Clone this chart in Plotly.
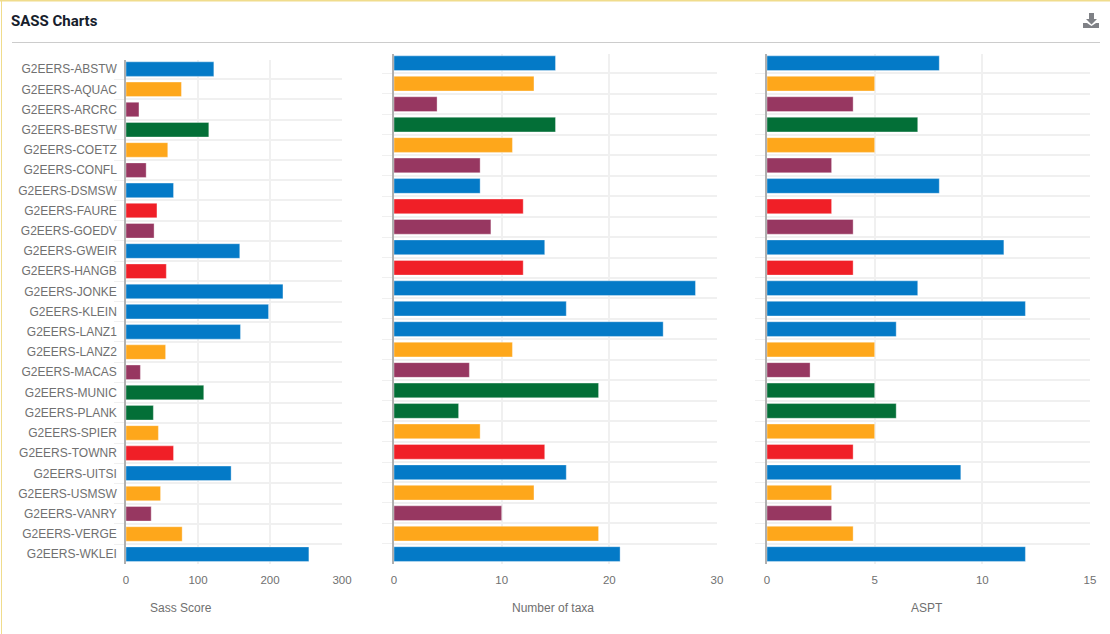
import plotly.graph_objects as go

W, H = 1110, 634

sites = ["G2EERS-ABSTW", "G2EERS-AQUAC", "G2EERS-ARCRC", "G2EERS-BESTW", "G2EERS-COETZ",
         "G2EERS-CONFL", "G2EERS-DSMSW", "G2EERS-FAURE", "G2EERS-GOEDV", "G2EERS-GWEIR",
         "G2EERS-HANGB", "G2EERS-JONKE", "G2EERS-KLEIN", "G2EERS-LANZ1", "G2EERS-LANZ2",
         "G2EERS-MACAS", "G2EERS-MUNIC", "G2EERS-PLANK", "G2EERS-SPIER", "G2EERS-TOWNR",
         "G2EERS-UITSI", "G2EERS-USMSW", "G2EERS-VANRY", "G2EERS-VERGE", "G2EERS-WKLEI"]
sass_score = [122, 77, 18, 115, 58, 28, 66, 43, 39, 158, 56, 218, 198, 159, 55, 20, 108, 38, 45, 66, 146, 48, 35, 78, 254]
num_taxa = [15, 13, 4, 15, 11, 8, 8, 12, 9, 14, 12, 28, 16, 25, 11, 7, 19, 6, 8, 14, 16, 13, 10, 19, 21]
aspt = [8, 5, 4, 7, 5, 3, 8, 3, 4, 11, 4, 7, 12, 6, 5, 2, 5, 6, 5, 4, 9, 3, 3, 4, 12]
bar_colors = ["#047AC7", "#FEA71B", "#973761", "#036F37", "#FEA71B",
              "#973761", "#047AC7", "#F01F27", "#973761", "#047AC7",
              "#F01F27", "#047AC7", "#047AC7", "#047AC7", "#FEA71B",
              "#973761", "#036F37", "#036F37", "#FEA71B", "#F01F27",
              "#047AC7", "#FEA71B", "#973761", "#FEA71B", "#047AC7"]
panels = [("Sass Score", sass_score, [0, 300], [0, 100, 200, 300], (126, 342), 181, 59),
          ("Number of taxa", num_taxa, [0, 30], [0, 10, 20, 30], (394, 717), 553, 53),
          ("ASPT", aspt, [0, 15], [0, 5, 10, 15], (767, 1090), 927, 53)]

BOTTOM = 564.3
GRID = "#f0f0f0"
TEXT = "#707070"
FONT = "Liberation Sans"


def px(x):
    return x / W


def py(y):
    return 1 - y / H


fig = go.Figure()
annotations = [
    dict(text="<b>SASS Charts</b>", xref="paper", yref="paper", x=px(9), y=py(21),
         xanchor="left", yanchor="middle", showarrow=False,
         font=dict(family="Roboto", size=15, color="#16202c")),
]
top_masks = []
for i, (name, values, rng, ticks, (x0, x1), title_x, top) in enumerate(panels, start=1):
    suffix = "" if i == 1 else str(i)
    fig.add_trace(go.Bar(
        y=sites, x=values, orientation="h", name=name, showlegend=False,
        xaxis="x" + suffix, yaxis="y" + suffix,
        marker=dict(color=bar_colors, line=dict(color="rgba(255,255,255,0.35)", width=1)),
    ))
    fig.layout["xaxis" + suffix] = dict(
        domain=[px(x0), px(x1)], anchor="y" + suffix, range=rng, tickvals=ticks,
        showgrid=True, gridcolor=GRID, gridwidth=1.5, zeroline=False, showline=False,
        automargin=False, ticks="outside", ticklen=5, tickcolor="rgba(0,0,0,0)",
        tickfont=dict(family=FONT, size=11.5, color=TEXT),
    )
    fig.layout["yaxis" + suffix] = dict(
        domain=[py(BOTTOM), py(top)], anchor="x" + suffix, autorange="reversed",
        type="category", tickson="boundaries", ticks="outside", ticklen=10, tickcolor=GRID,
        showgrid=True, gridcolor=GRID, gridwidth=1.5, zeroline=False,
        showline=True, linecolor="#b0b0b0", linewidth=1.5, automargin=False,
        showticklabels=i == 1, ticklabelstandoff=5,
        tickfont=dict(family=FONT, size=12, color=TEXT),
    )
    annotations.append(dict(text=name, xref="paper", yref="paper", x=px(title_x), y=py(608),
                            xanchor="center", yanchor="middle", showarrow=False,
                            font=dict(family=FONT, size=12, color=TEXT)))
    # the reference has no rule along the top edge of a panel
    top_masks.append(dict(type="line", xref="paper", yref="paper", layer="above",
                          x0=px(x0 - 12), x1=px(x1 + 2), y0=py(top), y1=py(top),
                          line=dict(color="white", width=2)))

icon = "#7f8186"
fig.update_layout(
    width=W, height=H, margin=dict(l=0, r=0, t=0, b=0), autosize=False,
    paper_bgcolor="white", plot_bgcolor="white", bargap=0.28,
    annotations=annotations,
    shapes=top_masks + [
        dict(type="line", xref="paper", yref="paper", x0=0, x1=1, y0=py(0.5), y1=py(0.5),
             line=dict(color="#F0DC8C", width=2)),
        dict(type="line", xref="paper", yref="paper", x0=px(1.5), x1=px(1.5), y0=0, y1=1,
             line=dict(color="#F0DC8C", width=1)),
        dict(type="line", xref="paper", yref="paper", x0=px(12), x1=px(1100), y0=py(42.5), y1=py(42.5),
             line=dict(color="#cccccc", width=1)),
        dict(type="path", xref="paper", yref="paper", fillcolor=icon, line=dict(width=0),
             path=f"M{px(1083)},{py(28)} L{px(1083)},{py(23)} L{px(1087)},{py(23)} L{px(1091.5)},{py(26)} "
                  f"L{px(1096)},{py(23)} L{px(1099)},{py(23)} L{px(1099)},{py(28)} Z"),
        dict(type="path", xref="paper", yref="paper", fillcolor=icon, line=dict(width=0),
             path=f"M{px(1089)},{py(13)} L{px(1094)},{py(13)} L{px(1094)},{py(19)} L{px(1097)},{py(19)} "
                  f"L{px(1091.5)},{py(24.5)} L{px(1086)},{py(19)} L{px(1089)},{py(19)} Z"),
    ],
)

fig.write_html("out.html", config=dict(displayModeBar=False),
               post_script="document.body.style.margin='0';")
